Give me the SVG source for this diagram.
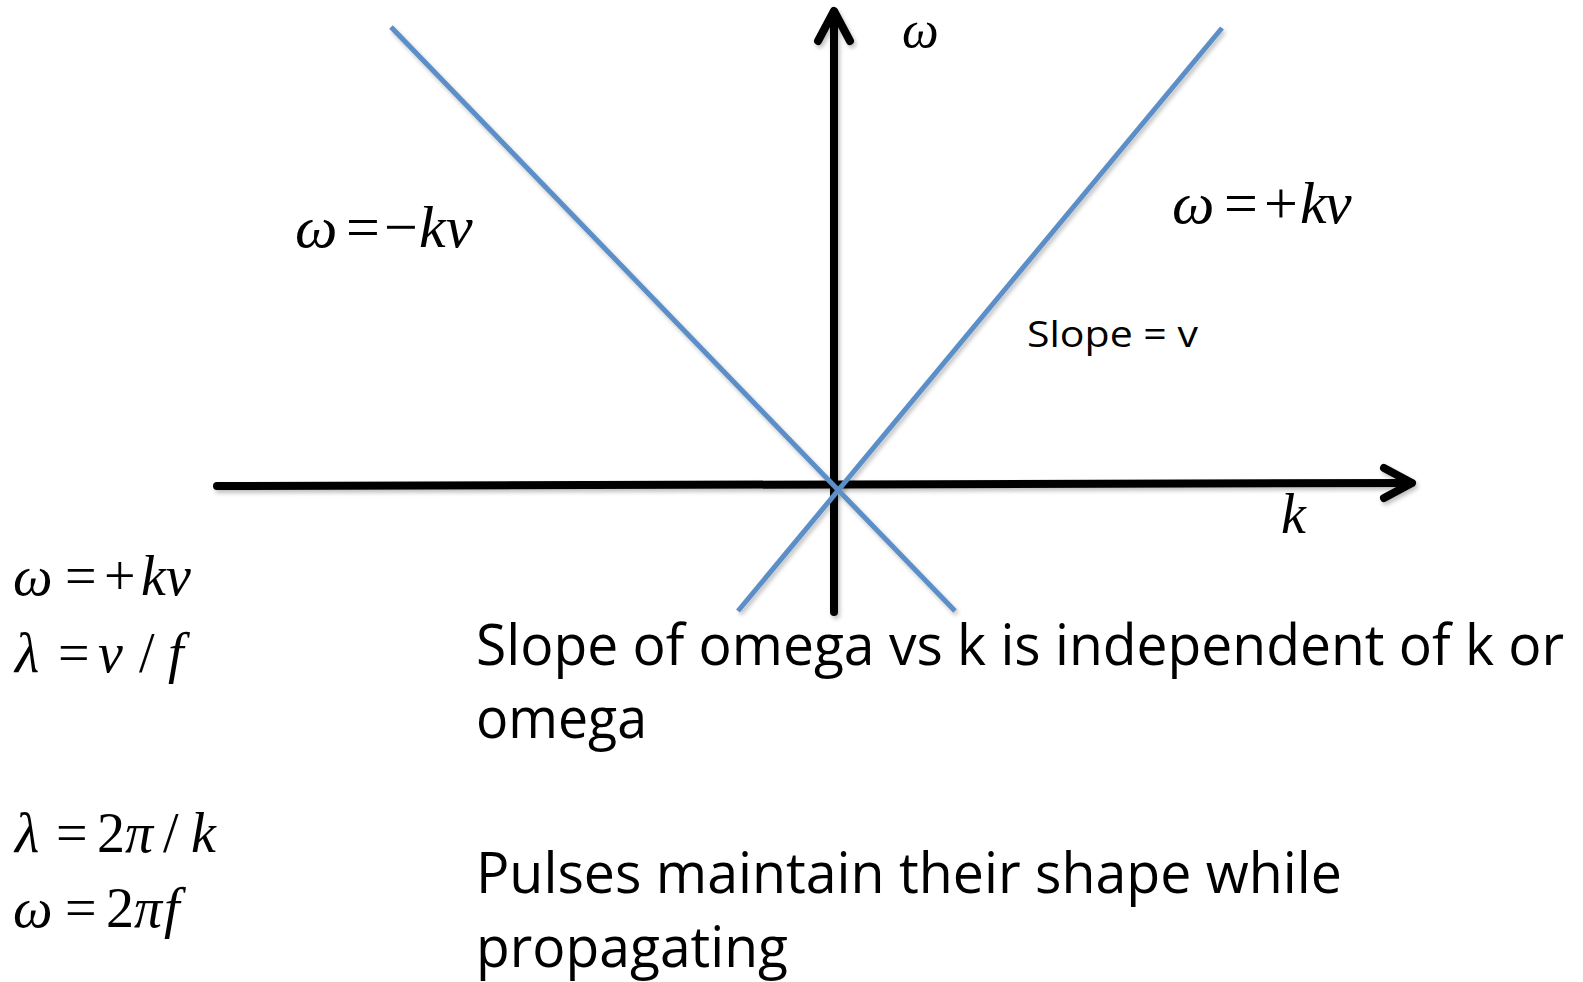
<svg xmlns="http://www.w3.org/2000/svg" width="1583" height="982" viewBox="0 0 1583 982">
<style>
.axis{stroke:#000;stroke-width:8;fill:none;stroke-linecap:round;stroke-linejoin:round}
.ray{stroke:#5b8fc8;stroke-width:5;fill:none}
.m{font-family:"Liberation Serif","Times New Roman",serif;font-style:italic;fill:#000}
.u{font-style:normal}
.s{font-family:"Open Sans","Liberation Sans",sans-serif;fill:#000}
</style>
<defs>
<filter id="sh" x="-5%" y="-5%" width="110%" height="110%">
<feGaussianBlur in="SourceAlpha" stdDeviation="2"/>
<feOffset dx="2" dy="3"/>
<feComponentTransfer><feFuncA type="linear" slope="0.25"/></feComponentTransfer>
<feMerge><feMergeNode/><feMergeNode in="SourceGraphic"/></feMerge>
</filter>
</defs>
<rect width="1583" height="982" fill="#fff"/>
<g id="connectors">
<g id="axes" filter="url(#sh)">
<line class="axis" x1="217" y1="486" x2="1411" y2="483"/>
<polyline class="axis" points="1384,468 1412,483 1384,498"/>
<line class="axis" x1="834" y1="612" x2="834" y2="12"/>
<polyline class="axis" points="818,41 834,11 850,41"/>
</g>
<g id="rays" filter="url(#sh)">
<line class="ray" x1="738" y1="611" x2="1222" y2="28"/>
<line class="ray" x1="391" y1="27" x2="955" y2="611"/>
</g>
</g>
<g id="label-omega-axis"><text class="m" x="902" y="47" font-size="52">ω</text></g>
<g id="label-k-axis"><text class="m" x="1281" y="533" font-size="56">k</text></g>
<g id="eq-plus">
<text class="m" y="223" font-size="60"><tspan x="1172">ω</tspan><tspan class="u" x="1224">=</tspan><tspan class="u" x="1264">+</tspan><tspan x="1300">k</tspan><tspan x="1325">v</tspan></text>
</g>
<g id="eq-minus">
<text class="m" y="247" font-size="60"><tspan x="295">ω</tspan><tspan class="u" x="346">=</tspan><tspan class="u" x="384">−</tspan><tspan x="419">k</tspan><tspan x="446">v</tspan></text>
</g>
<g id="slope-label"><text class="s" x="1027" y="347" font-size="36" textLength="171" lengthAdjust="spacingAndGlyphs">Slope = v</text></g>
<g id="formulas">
<text class="m" y="595" font-size="56"><tspan x="13">ω</tspan><tspan class="u" x="65">=</tspan><tspan class="u" x="104">+</tspan><tspan x="141">k</tspan><tspan x="166">v</tspan></text>
<text class="m" y="672" font-size="56"><tspan x="15">λ</tspan><tspan class="u" x="58">=</tspan><tspan x="98">v</tspan><tspan class="u" x="139">/</tspan><tspan x="168">f</tspan></text>
<text class="m" y="852" font-size="56"><tspan x="15">λ</tspan><tspan class="u" x="56">=</tspan><tspan class="u" x="97">2</tspan><tspan x="125">π</tspan><tspan class="u" x="163">/</tspan><tspan x="191">k</tspan></text>
<text class="m" y="927" font-size="56"><tspan x="13">ω</tspan><tspan class="u" x="65">=</tspan><tspan class="u" x="106">2</tspan><tspan x="134">π</tspan><tspan x="164">f</tspan></text>
</g>
<g id="note-slope">
<text class="s" x="476" y="665" font-size="57" textLength="1088" lengthAdjust="spacingAndGlyphs">Slope of omega vs k is independent of k or</text>
<text class="s" x="476" y="738" font-size="57" textLength="171" lengthAdjust="spacingAndGlyphs">omega</text>
</g>
<g id="note-pulses">
<text class="s" x="476" y="893" font-size="57" textLength="866" lengthAdjust="spacingAndGlyphs">Pulses maintain their shape while</text>
<text class="s" x="476" y="967" font-size="57" textLength="312" lengthAdjust="spacingAndGlyphs">propagating</text>
</g>
</svg>
